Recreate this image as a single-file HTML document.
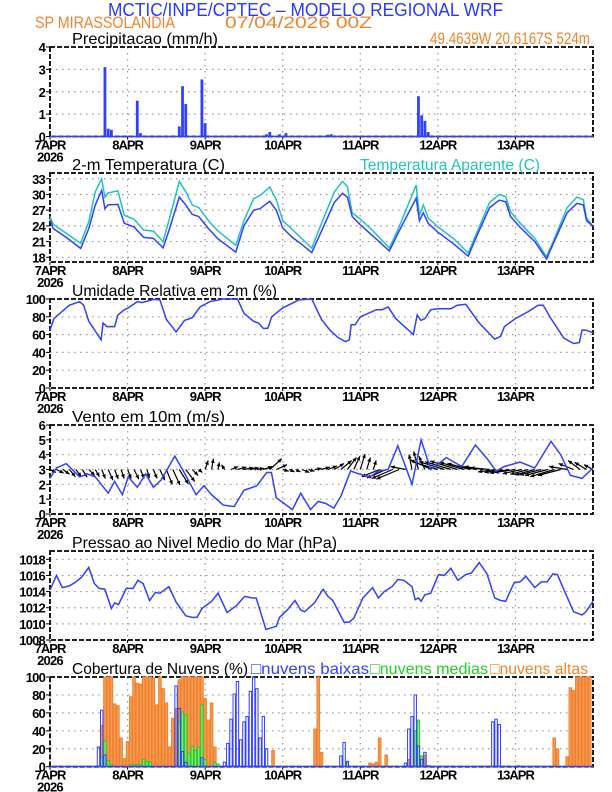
<!DOCTYPE html>
<html><head><meta charset="utf-8"><style>
html,body{margin:0;padding:0;background:#fff}
svg{display:block;font-family:"Liberation Sans",sans-serif}
</style></head><body>
<svg id="chart" width="612" height="792" viewBox="0 0 612 792" xmlns="http://www.w3.org/2000/svg">
<text x="108" y="16" font-size="18" fill="#2838ff" textLength="395" lengthAdjust="spacingAndGlyphs">MCTIC/INPE/CPTEC – MODELO REGIONAL WRF</text>
<text x="35" y="28" font-size="17" fill="#f0842c" textLength="140" lengthAdjust="spacingAndGlyphs">SP MIRASSOLANDIA</text>
<text x="225" y="28" font-size="17" fill="#f0842c" textLength="147" lengthAdjust="spacingAndGlyphs">07/04/2026 00Z</text>
<text x="430" y="44" font-size="17" fill="#f0842c" textLength="160" lengthAdjust="spacingAndGlyphs">49.4639W 20.6167S 524m</text>
<g id="plots"></g>
</svg>
<script>
// ---------- DATA ----------
const dayLabels=["7APR","8APR","9APR","10APR","11APR","12APR","13APR"];
const precipHours=[17,18,19,27,28,38,40,41,42,47,48,60,67,68,71,73,86,87,114,115,116,117,141];
const precipVals=[3.1,0.35,0.3,1.6,0.15,0.05,0.45,2.25,1.45,2.55,0.6,0.05,0.1,0.2,0.1,0.15,0.08,0.1,1.8,0.95,0.7,0.2,0.05];
const tempHours=[0,1,5,9.5,12,14,16,17,18,21,23,26,29,32,35,37,40,42,44,46,49,52,57.5,60,63,65,68,70,72,75,78,81,84,88,90.5,92,93.5,96,100,105,108,113.3,114.3,115.5,117,120,125,129.4,132,136,139,141,142.5,145,150,153.6,156,160,163,165,166,168];
const tempVals=[25.2,23.5,21.8,19.7,23.5,28.0,30.8,27.3,28.0,28.1,24.5,23.8,21.8,21.6,19.8,23.5,29.5,28.0,26.2,25.8,23.5,21.5,19.0,24.0,27.0,27.3,28.7,27.0,23.6,21.8,20.4,18.9,23.0,28.5,30.2,29.5,25.8,24.2,22.0,19.2,23.0,29.3,25.0,26.5,24.5,22.8,20.5,18.2,22.0,27.5,28.9,28.6,25.8,24.0,21.0,17.7,21.0,26.5,28.3,28.0,25.0,23.9];
const appTempVals=[25.8,24.3,22.6,20.7,24.8,30.5,33.0,29.5,30.3,30.7,26.0,25.3,23.2,23.0,21.0,25.5,32.5,30.5,28.0,27.5,25.0,23.0,20.3,25.0,29.2,29.8,31.4,29.0,25.0,23.3,21.5,19.8,24.5,30.5,32.5,31.5,26.5,25.3,23.0,19.8,23.8,31.8,26.0,28.0,25.5,23.8,21.5,18.8,22.6,28.5,30.0,29.6,26.7,24.8,21.6,18.1,21.5,27.5,29.5,29.0,25.5,24.0];
const rhHours=[0,1.2,6,9.2,10.4,12,15.8,16.4,17.6,20,21,23,24.2,27,28.5,32,34,36,39,41.6,44,46.4,49.4,53.6,58,60,63,64.5,66,67.4,68.6,72,77,81,84,86.6,89,91.4,92.6,93.2,94.4,96,101,102.8,104.6,107,112.4,113.6,114.8,116,117.8,120.2,124,126,128.6,132.8,137.6,139.4,140.6,144,148,151,152.6,155,159,162,163.8,164.6,165.8,168];
const rhVals=[65,78,93,97,93,75,54,73,69,69,82,88,90,97,96,99.6,99,77,63,76,79,91,97,100,100,84,75,73,67,67,80,90,99,100,77,65,57,52,54,71,71,80,88,88,91,78,60,82,76,78,88,89,89,93,94,73,55,58,69,78,86,93,93,78,56,50,51,65,65,62];
const windHours=[0,2,5,9.2,11.5,14,18,20,22.4,24.2,27,29.6,32,34.4,38.6,41,45.2,47.6,50,53.6,57,60,64,67,68.5,70,75,77.6,80.6,83,85.4,87.8,90,93,95.6,99,101.6,104.6,107.6,110,112,114.8,117.8,122.6,127.4,131.6,135,138,140.6,145.4,150,155,158,161,164.6,168];
const windVals=[2.4,3.1,3.4,2.5,2.7,2.5,1.4,2.2,1.3,2.5,1.8,2.7,1.8,2.3,3.9,3.0,1.3,1.9,1.3,0.6,0.5,1.6,1.9,2.8,2.8,1.1,0.3,1.4,0.3,0.85,0.7,0.4,1.2,2.9,2.7,2.5,2.9,3.0,4.6,3.2,2.0,5.0,3.0,3.8,3.2,4.65,3.8,2.9,3.2,3.5,3.1,4.9,4.0,2.6,2.4,3.1];
const vecHours=[0,2,4,6,8,10,12,14,16,18,20,22,24,26,28,30,32,34,36,38,40,42,44,46,48,50,52,54,56,58,60,62,64,66,68,70,72,74,76,78,80,82,84,86,88,90,92,94,96,98,100,102,104,106,108,110,112,114,116,118,120,122,124,126,128,130,132,134,136,138,140,142,144,146,148,150,152,154,156,158,160,162,164,166,168];
const vecU=[1.0,1.2,1.1,1.0,0.9,0.8,1.0,0.7,0.6,0.8,0.6,0.5,0.6,0.8,0.6,0.4,0.6,0.8,1.0,1.2,1.5,1.5,1.0,0.6,0.5,0.3,0.2,-0.5,1.2,1.5,1.6,1.4,1.2,1.5,2.0,1.8,1.0,0.9,0.8,1.2,1.0,1.1,1.4,1.5,1.6,1.8,1.5,1.0,0.8,0.6,0.5,-3.0,-3.2,-3.5,-3.8,-2.5,-0.5,-0.8,-1.0,-3.5,-4.0,-4.2,-4.3,-4.5,-4.0,-3.8,-3.0,-3.1,-3.2,-3.0,-3.0,-3.2,-3.5,-3.2,-3.0,-3.3,-3.6,-3.8,-4.0,-3.8,-3.0,-2.5,-2.0,-2.0,-1.5];
const vecV=[-0.5,-0.6,-0.8,-1.2,-1.2,-1.3,-1.0,-1.2,-1.5,-1.8,-1.6,-1.5,-1.5,-1.6,-1.5,-1.4,-1.5,-1.8,-2.5,-2.6,-2.4,-2.0,-1.0,-0.5,1.5,1.8,1.2,0.8,0.5,0.4,0.3,0.3,0.2,0.5,1.8,0.8,-0.3,-0.4,-0.4,-0.5,-0.3,0.2,0.4,0.6,1.0,1.5,2.0,2.2,2.6,2.0,1.5,-1.2,-1.4,-1.5,-1.6,0.5,2.5,3.0,2.2,1.6,1.2,1.3,1.3,1.4,1.2,1.0,0.6,0.5,0.3,-0.4,-0.5,-0.6,-0.5,-0.7,-0.8,-0.9,-0.9,-1.0,-1.2,-1.0,0.5,1.0,1.5,1.2,0.8];
const presHours=[0,2,3.8,6,8,9.8,12,13.7,15.2,17,19,20,21.2,23.6,25.7,27.2,28.8,30.8,32.6,34,36.8,39,42,44,45.5,47,50,52,54.8,57.8,60.2,62.6,63.8,66.8,70,71,73.4,75.8,77.6,78.8,81.8,84.5,86,87.5,91,92.6,94,96.8,99.8,101.6,103.4,105.8,107.6,109.5,112,113,114,114.8,116,117.8,120.2,122,124,126.2,128.6,130.4,132.8,135.2,137.6,139.4,141,143.6,145.4,147.2,150,152,153.8,155.6,157,158.6,162,163.4,164.6,165.8,168];
const presVals=[1014.2,1016.0,1014.5,1014.7,1015.2,1015.8,1017.0,1015.0,1014.4,1014.3,1011.9,1012.6,1012.4,1014.4,1014.4,1015.4,1015.0,1012.9,1013.9,1013.8,1014.6,1012.7,1011.0,1010.8,1010.8,1011.9,1012.8,1013.8,1011.4,1012.3,1013.4,1013.2,1013.2,1009.3,1009.7,1010.8,1011.7,1012.9,1011.7,1011.5,1012.6,1014.3,1013.4,1012.9,1010.2,1010.2,1010.7,1013.2,1014.5,1013.2,1014.0,1014.6,1015.5,1015.4,1014.6,1013.0,1013.2,1012.8,1013.6,1013.8,1016.1,1016.0,1016.9,1015.4,1016.1,1016.3,1017.6,1016.2,1013.2,1012.9,1012.8,1015.1,1015.2,1015.9,1014.5,1015.2,1015.2,1016.2,1016.1,1014.6,1011.5,1011.3,1011.1,1011.5,1012.8];
const highHours=[16,17,18,19,20,21,22,23,24,25,26,27,28,29,30,31,32,33,34,35,36,37,38,39,40,41,42,43,44,45,46,47,48,49,50,51,69,82,83,84,99,100,101,102,104,111,113,116,156,157,160,161,162,163,164,165,166,167];
const highVals=[46,100,100,100,70,68,32,9,28,78,100,93,92,100,100,100,99,69,100,87,71,22,54,65,97,100,100,100,100,100,100,100,76,52,71,22,18,42,100,16,4,3,5,32,13,8,25,13,32,20,11,88,85,100,100,100,100,100];
const lowHours=[15,16,17,39,40,41,42,47,54,55,56,57,58,59,60,61,62,63,64,65,66,67,90,91,92,110,111,112,113,114,115,116,117,137,138,139,145];
const lowVals=[22,63,13,90,65,17,5,10,5,26,53,81,95,30,50,56,84,100,87,32,56,20,12,27,6,4,42,56,80,23,8,16,1,50,53,47,1];
const midHours=[16,17,18,19,25,26,27,28,29,30,31,40,41,42,43,44,45,46,47,48,51,52,92,113,114,115];
const midVals=[10,29,7,2,2,2,2,2,8,6,5,50,61,58,15,23,18,22,69,8,5,3,5,40,52,12];
const precipTicks=[0,1,2,3,4];
const tempTicks=[18,21,24,27,30,33];
const rhTicks=[0,20,40,60,80,100];
const windTicks=[0,1,2,3,4,5,6];
const presTicks=[1008,1010,1012,1014,1016,1018];
const cloudTicks=[0,20,40,60,80,100];

// ---------- DRAW ----------
const NS="http://www.w3.org/2000/svg";
const root=document.getElementById('plots');
const X0=50,X1=593,HRS=168;
const xs=h=>X0+h*(X1-X0)/HRS;
function el(tag,attrs,parent){const e=document.createElementNS(NS,tag);for(const k in attrs)e.setAttribute(k,attrs[k]);(parent||root).appendChild(e);return e;}
function mkY(top,bot,min,max){return v=>bot-(v-min)*(bot-top)/(max-min);}
const BLUE="#3040ff",CYAN="#20c4c0",ORANGE="#f0842c",GREEN="#22d022";

function panel(name,title,top,bot,min,max,ticks,titleW){
  const y=mkY(top,bot,min,max);
  const g=el('g',{});
  
  
  ticks.forEach(t=>{const yy=y(t);
    if(yy>top+1&&yy<bot-1){const l=el('line',{x1:X0,x2:X1,y1:yy,y2:yy,stroke:'#999','stroke-width':1.2,'stroke-dasharray':'1.5,4.5'},g);
      }
    const lb=el('text',{x:45,y:yy+5,'font-size':13,'font-weight':'bold','text-anchor':'end',fill:'#000','letter-spacing':'-0.8'},g);lb.textContent=String(t);
    
    el('line',{x1:X0-4,x2:X0,y1:yy,y2:yy,stroke:'#000'},g);
  });
  for(let d=1;d<7;d++){const xx=xs(d*24);
    const l=el('line',{x1:xx,x2:xx,y1:top,y2:bot,stroke:'#999','stroke-width':1.2,'stroke-dasharray':'1.5,4.5'},g);
    }
  dayLabels.forEach((dl,i)=>{const xx=xs(i*24);
    const t=el('text',{x:xx,y:bot+13,'font-size':13,'font-weight':'bold','text-anchor':'middle',fill:'#000','letter-spacing':'-1'},g);t.textContent=dl;
    
    el('line',{x1:xx,x2:xx,y1:bot,y2:bot+3,stroke:'#000'},g);});
  const yr=el('text',{x:X0,y:bot+25,'font-size':13,'font-weight':'bold','text-anchor':'middle',fill:'#000','letter-spacing':'-0.8'},g);yr.textContent='2026';
  
  const tt=el('text',{x:72,y:top-3,'font-size':16,fill:'#000',textLength:titleW,lengthAdjust:'spacingAndGlyphs'},g);tt.textContent=title;
  
  const fr=el('rect',{x:X0,y:top,width:X1-X0,height:bot-top,fill:'none',stroke:'#000','stroke-width':1.8,'stroke-dasharray':'5,2'},g);
  
  return {y,g};
}
function line(hours,vals,y,color,name,parent){
  const d=hours.map((h,i)=>(i?'L':'M')+xs(h).toFixed(1)+','+y(vals[i]).toFixed(1)).join('');
  const p=el('path',{d,fill:'none',stroke:color,'stroke-width':1.5},parent);
  
}
function bars(hours,vals,y,fill,stroke,name,parent,w,base){
  hours.forEach((h,i)=>{const x=xs(h)-w/2,yy=y(vals[i]);
    const r=el('rect',{x:x,y:yy,width:w,height:Math.max(0,base-yy),fill:fill,stroke:stroke,'stroke-width':stroke=='none'?0:1},parent);
    });
}
// Panel 1 precip
let P=panel('precipitation','Precipitacao (mm/h)',47,136.5,0,4,precipTicks,146);
bars(precipHours,precipVals,P.y,BLUE,'none','precip-bar',P.g,2.8,136.5);
el('line',{x1:X0,x2:X1,y1:136.5,y2:136.5,stroke:BLUE,'stroke-width':1.5},P.g);
// Panel 2 temp
P=panel('temperature','2-m Temperatura (C)',173,262,17.1,34.1,tempTicks,153);
line(tempHours,appTempVals,P.y,CYAN,'apparent-temperature-line',P.g);
line(tempHours,tempVals,P.y,BLUE,'temperature-line',P.g);
let lg=el('text',{x:360,y:170,'font-size':16,fill:CYAN,textLength:180,lengthAdjust:'spacingAndGlyphs'},P.g);lg.textContent='Temperatura Aparente (C)';

// Panel 3 RH
P=panel('humidity','Umidade Relativa em 2m (%)',299,388,0,100,rhTicks,205);
line(rhHours,rhVals,P.y,BLUE,'humidity-line',P.g);
// Panel 4 wind
P=panel('wind','Vento em 10m (m/s)',425,514,0,6,windTicks,153);
const wy=P.y;
vecHours.forEach((h,i)=>{const x0=xs(h),y0=wy(3),sc=6;
  const x1=x0+vecU[i]*sc,y1=y0-vecV[i]*sc;
  const a=Math.atan2(y1-y0,x1-x0),L=4.5;
  const g=el('g',{},P.g);
  
  
  el('line',{x1:x0,y1:y0,x2:x1,y2:y1,stroke:'#000','stroke-width':1.2},g);
  el('path',{d:`M${x1},${y1}L${x1-L*Math.cos(a-0.45)},${y1-L*Math.sin(a-0.45)}L${x1-L*Math.cos(a+0.45)},${y1-L*Math.sin(a+0.45)}Z`,fill:'#000'},g);
});
line(windHours,windVals,wy,BLUE,'wind-speed-line',P.g);
// Panel 5 pressure
P=panel('pressure','Pressao ao Nivel Medio do Mar (hPa)',551,640,1008,1019.03,presTicks,265);
line(presHours,presVals,P.y,BLUE,'pressure-line',P.g);
// Panel 6 clouds
P=panel('clouds','Cobertura de Nuvens (%)',677,766.7,0,100,cloudTicks,176);
bars(highHours,highVals,P.y,'#f59a50','#f08030','high-cloud-bar',P.g,2.6,766.7);
bars(midHours,midVals,P.y,'#90e890',GREEN,'mid-cloud-bar',P.g,2.2,766.7);
bars(lowHours,lowVals,P.y,'none',BLUE,'low-cloud-bar',P.g,2.4,766.7);
el('line',{x1:X0,x2:X1,y1:766.5,y2:766.5,stroke:BLUE,'stroke-width':1.5},P.g);
[['□nuvens baixas',251,BLUE,118,'low-cloud-legend'],['□nuvens medias',370,GREEN,118,'mid-cloud-legend'],['□nuvens altas',490,ORANGE,98,'high-cloud-legend']].forEach(l=>{
  const t=el('text',{x:l[1],y:674,'font-size':16,fill:l[2],textLength:l[3],lengthAdjust:'spacingAndGlyphs'},P.g);t.textContent=l[0];
  
  
});
</script>
</body></html>
